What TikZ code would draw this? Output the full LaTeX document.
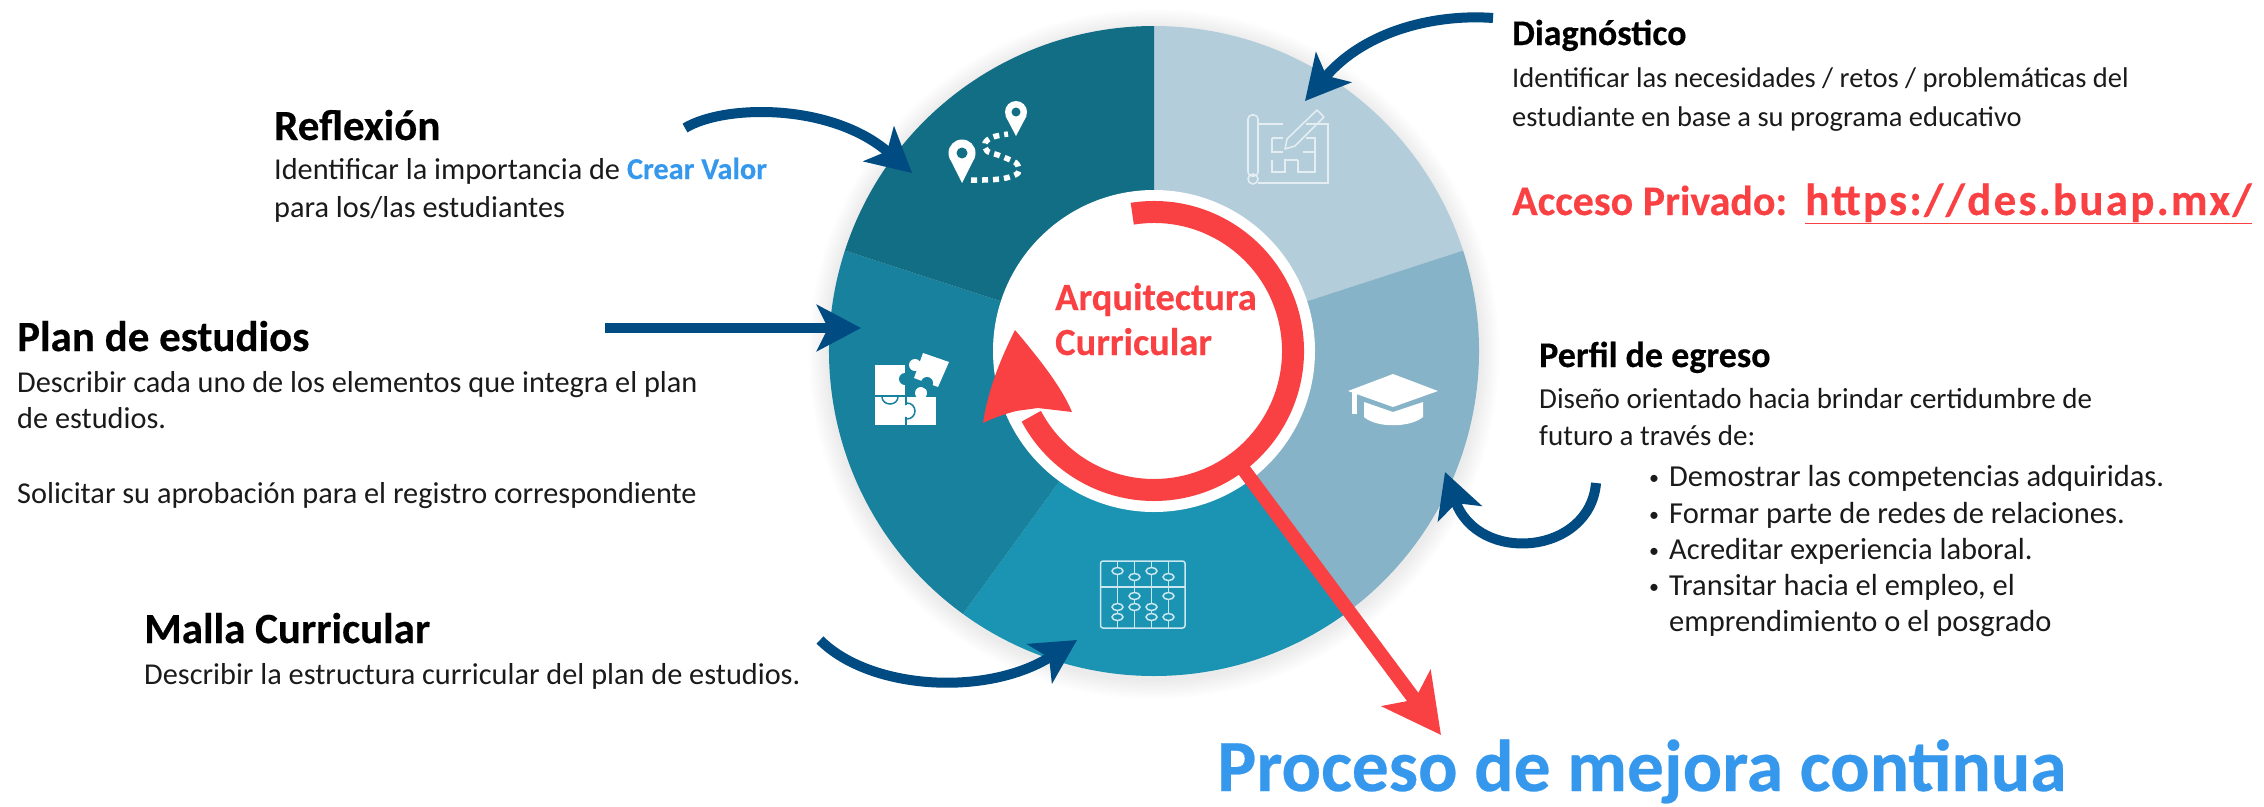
\documentclass[tikz,border=0pt]{standalone}
\usepackage{fontspec}
\setmainfont{Carlito}
\usetikzlibrary{arrows.meta}
\definecolor{secA}{HTML}{B3CDDB}
\definecolor{secB}{HTML}{86B3C7}
\definecolor{secC}{HTML}{1A94B2}
\definecolor{secD}{HTML}{17819E}
\definecolor{secE}{HTML}{126E85}
\definecolor{navyarrow}{HTML}{004B82}
\definecolor{redmark}{HTML}{F94144}
\definecolor{bluetext}{HTML}{3598EC}
\definecolor{inktext}{HTML}{1A1A1A}
\definecolor{iconA}{HTML}{E3EDF2}
\definecolor{iconC}{HTML}{CBE8F0}
\newcommand{\heavy}{\bfseries\addfontfeatures{FakeBold=0.35}}
\tikzset{
  txtbase/.style={anchor=base west,inner sep=0pt},
  bodytxt/.style={txtbase,text=inktext,font=\fontsize{30.3}{34}\selectfont},
  diagtxt/.style={txtbase,text=inktext,font=\fontsize{28.5}{34}\selectfont},
  perfiltxt/.style={txtbase,text=inktext,font=\fontsize{29}{34}\selectfont},
  listtxt/.style={txtbase,text=inktext,font=\fontsize{30.5}{34}\selectfont},
  dotmark/.style={txtbase,text=inktext,font=\fontsize{20}{24}\selectfont},
  headtxt/.style={txtbase,text=black,font=\fontsize{43}{46}\selectfont\heavy},
  headsmall/.style={txtbase,text=black,font=\fontsize{36}{40}\selectfont\heavy},
  centertxt/.style={txtbase,text=redmark,font=\fontsize{38.5}{42}\selectfont\heavy},
  accesstxt/.style={txtbase,text=redmark,font=\fontsize{42}{46}\selectfont\heavy},
  linktxt/.style={txtbase,text=redmark,font=\fontsize{45}{48}\selectfont\bfseries\addfontfeatures{LetterSpace=5,FakeBold=0.35}},
  bluearrow/.style={draw=navyarrow,line width=10pt,-{Stealth[length=44pt,width=46pt,inset=11pt]}},
  redarrow/.style={draw=redmark,line width=14pt,-{Stealth[length=58pt,width=60pt,inset=14pt]}},
  abacusline/.style={draw=iconC,line width=1.5pt,fill=none},
  planline/.style={draw=iconA,line width=1.6pt,fill=none},
}
\begin{document}
\begin{tikzpicture}[x=1pt,y=-1pt]
\useasboundingbox (0,0) rectangle (2264,806);
\clip (0,0) rectangle (2264,806);
% soft shadow
\foreach \r in {345,343,...,327}{\fill[black,opacity=0.009] (1154,354) circle (\r);}
% ring sectors
\begin{scope}[shift={(1154,351)},y=1pt]
  \fill[secA] (0,0) -- (90:325) arc (90:18:325) -- cycle;
  \fill[secB] (0,0) -- (18:325) arc (18:-54:325) -- cycle;
  \fill[secC] (0,0) -- (-54:325) arc (-54:-126:325) -- cycle;
  \fill[secD] (0,0) -- (-126:325) arc (-126:-198:325) -- cycle;
  \fill[secE] (0,0) -- (162:325) arc (162:90:325) -- cycle;
  \fill[white] (0,0) circle (161);
\end{scope}
% route icon
\fill[white] (962,153) circle (13.5);
\fill[white] (949.5,158) -- (962,183) -- (974.5,158) -- cycle;
\fill[secE] (962,153) circle (5.5);
\fill[white] (1016,112) circle (11);
\fill[white] (1005.5,116) -- (1016,136) -- (1026.5,116) -- cycle;
\fill[secE] (1016,112) circle (4.5);
\draw[white,line width=5.5pt,dash pattern=on 6pt off 5pt] plot[smooth,tension=.6] coordinates {(971,180) (983,180) (995,179.5) (1006,178) (1018,173) (1017,164) (1008,159) (998,155) (987,151) (985,143) (993,137) (1008,134)};
% plan icon
\draw[planline,rounded corners=4pt] (1248,115) rectangle (1258,176);
\draw[planline] (1253,179) circle (5);
\draw[planline] (1258,124) -- (1283,124) (1306,124) -- (1328,124) -- (1328,183) -- (1258,183);
\draw[planline] (1272,138) -- (1283,138) (1272,138) -- (1272,152) -- (1283,152) (1272,160) -- (1272,172) -- (1285,172) -- (1285,160) -- (1298,160)
  (1306,138) -- (1315,138) -- (1315,172) -- (1298,172) -- (1298,160) (1315,152) -- (1303,152);
\draw[planline,line join=round] (1285,149) -- (1287,139) -- (1317,110) -- (1324,117) -- (1295,146) -- cycle;
% puzzle icon
\fill[white] (875,365) rectangle (905,395);
\fill[secD] (905,379) circle (6);
\fill[white] (875,397) rectangle (905,425);
\fill[white] (907,397) rectangle (936,425);
\fill[white] (921,393) circle (6);
\fill[white] (907,411) circle (6);
\draw[secD,line width=1.5pt] (882,397) arc (180:0:8 and 7);
\draw[secD,line width=1.5pt] (907,403) arc (-90:90:8);
\fill[white] (923,353) -- (949,362) -- (938,387) -- (914,378) -- cycle;
\fill[white] (915,365) circle (6);
\fill[secD] (927,383) circle (6);
% cap icon
\fill[white] (1348,391) -- (1393,374) -- (1438,391) -- (1393,407) -- cycle;
\fill[white] (1352,391) rectangle (1357,414);
\fill[white] (1364,402) -- (1393,412) -- (1423,402) -- (1423,417) .. controls (1410,428) and (1376,428) .. (1364,417) -- cycle;
% abacus icon
\draw[abacusline,rounded corners=2.5pt] (1100.5,561) rectangle (1185,628);
\draw[abacusline] (1100.5,587) -- (1185,587);
\foreach \x in {1117.5,1134.5,1151.5,1168.5}{\draw[abacusline] (\x,561) -- (\x,628);}
\foreach \x/\y in {1117.5/571,1117.5/607,1117.5/617,1134.5/577,1134.5/596,1134.5/607,1151.5/571,1151.5/607,1151.5/617,1168.5/577,1168.5/596,1168.5/617}{
  \draw[abacusline,fill=secC] (\x,\y) ellipse (5.5 and 3.5);}
% red loop
\begin{scope}[shift={(1154,351)},y=1pt]
  \draw[redmark,line width=22pt] (99:139) arc (99:-152:139);
\end{scope}
\fill[redmark] (1015,330) .. controls (1042,362) and (1062,388) .. (1072,412) -- (1038,408) -- (1016,411) .. controls (1005,414) and (993,418) .. (983,423) .. controls (988,390) and (1000,360) .. (1015,330) -- cycle;
\coordinate (redtail) at (1238,462);
\coordinate (redtip) at (1441,735);
\draw[redarrow] (redtail) -- (redtip);
% blue arrows
\coordinate (a1s) at (685,128); \coordinate (a1e) at (912,173);
\coordinate (a2s) at (605,328); \coordinate (a2e) at (861,328);
\coordinate (a3s) at (820,640); \coordinate (a3e) at (1077,640);
\coordinate (a4s) at (1493,18); \coordinate (a4e) at (1305,101);
\coordinate (a5s) at (1596,483); \coordinate (a5e) at (1445,472);
\draw[bluearrow] (a1s) .. controls (725,104) and (832,103) .. (a1e);
\draw[bluearrow] (a2s) -- (a2e);
\draw[bluearrow] (a3s) .. controls (870,690) and (987,697) .. (a3e);
\draw[bluearrow] (a4s) .. controls (1440,14) and (1367,28) .. (a4e);
\draw[bluearrow] (a5s) .. controls (1590,555) and (1478,565) .. (a5e);
% texts
\node[headsmall] (t1) at (1512,45) {Diagnóstico};
\node[diagtxt] (t1a) at (1512,87) {Identificar las necesidades / retos / problemáticas del};
\node[diagtxt] (t1b) at (1512,126) {estudiante en base a su programa educativo};
\node[accesstxt] (t1c) at (1512,215) {Acceso Privado:};
\node[linktxt] (t1d) at (1805,215) {\underline{https://des.buap.mx/}};
\node[headtxt] (t2) at (274,140) {Reflexión};
\node[bodytxt] (t2a) at (274,179) {Identificar la importancia de \textcolor{bluetext}{\heavy Crear Valor}};
\node[bodytxt] (t2b) at (274,217) {para los/las estudiantes};
\node[headtxt] (t3) at (17,351) {Plan de estudios};
\node[bodytxt] (t3a) at (17,392) {Describir cada uno de los elementos que integra el plan};
\node[bodytxt] (t3b) at (17,428) {de estudios.};
\node[bodytxt] (t3c) at (17,503) {Solicitar su aprobación para el registro correspondiente};
\node[headtxt] (t4) at (144,643) {Malla Curricular};
\node[bodytxt] (t4a) at (144,684) {Describir la estructura curricular del plan de estudios.};
\node[headsmall] (t5) at (1539,367) {Perfil de egreso};
\node[perfiltxt] (t5a) at (1539,408) {Diseño orientado hacia brindar certidumbre de};
\node[perfiltxt] (t5b) at (1539,445) {futuro a través de:};
\foreach \n/\y/\s in {b1/486/Demostrar las competencias adquiridas.,b2/523/Formar parte de redes de relaciones.,b3/559/Acreditar experiencia laboral.,b4/595/{Transitar hacia el empleo, el}}{
  \node[listtxt] (\n) at (1669,\y) {\s};
  \node[dotmark] (\n m) at (1649,\y-2) {•};
}
\node[listtxt] (b5) at (1669,631) {emprendimiento o el posgrado};
\node[centertxt] (c1) at (1055,310) {Arquitectura};
\node[centertxt] (c2) at (1055,355) {Curricular};
\node[txtbase,text=bluetext,font=\fontsize{73.5}{78}\selectfont\heavy] (c3) at (1217,791) {Proceso de mejora continua};
\end{tikzpicture}
\end{document}
